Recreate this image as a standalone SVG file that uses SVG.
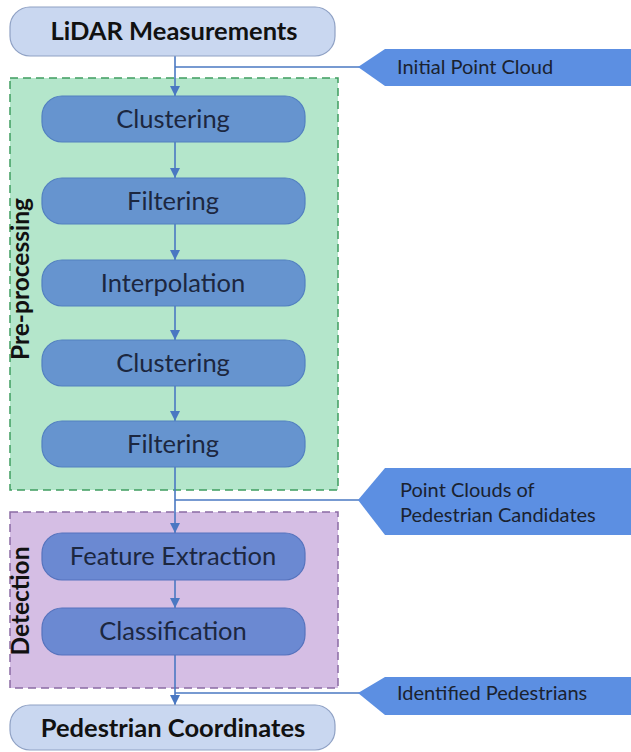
<svg xmlns="http://www.w3.org/2000/svg" width="631" height="752" viewBox="0 0 631 752">
<defs>
<style>
.io{fill:#c9d7f0;stroke:#8fa1c4;stroke-width:1.2}
.iot{font-family:Lato,"Liberation Sans",sans-serif;font-weight:bold;font-size:25.5px;fill:#111;text-anchor:middle}
.pp{fill:#6694cf;stroke:#5280c0;stroke-width:1.2}
.dt{fill:#6b89d2;stroke:#5673bd;stroke-width:1.2}
.bt{font-family:Lato,"Liberation Sans",sans-serif;font-size:25.5px;fill:#1c2740;text-anchor:middle}
.tag{fill:#5c8fe2}
.tt{font-family:Lato,"Liberation Sans",sans-serif;font-size:20px;fill:#1a2230}
.lbl{font-family:Lato,"Liberation Sans",sans-serif;font-weight:bold;font-size:24.5px;fill:#111;text-anchor:middle}
.ln{fill:none;stroke:#4a78c2;stroke-width:1.6}
</style>
<marker id="ah" viewBox="0 0 10 10" refX="10" refY="5" markerWidth="10" markerHeight="10" markerUnits="userSpaceOnUse" orient="auto">
<path d="M0,0 L10,5 L0,10 z" fill="#4a78c2"/>
</marker>
</defs>

<g id="group-preprocessing">
<rect x="10" y="78" width="328" height="412" fill="#b4e6cb" stroke="#3f9d60" stroke-width="1.5" stroke-dasharray="8,5"/>
<text class="lbl" transform="translate(29,279) rotate(-90)">Pre-processing</text>
</g>
<g id="group-detection">
<rect x="10" y="512" width="328" height="176" fill="#d5bee4" stroke="#8b6ba4" stroke-width="1.5" stroke-dasharray="8,5"/>
<text class="lbl" transform="translate(29,601) rotate(-90)">Detection</text>
</g>

<g id="connectors">
<line class="ln" x1="175" y1="56" x2="175" y2="96" marker-end="url(#ah)"/>
<line class="ln" x1="175" y1="67" x2="360" y2="67"/>
<line class="ln" x1="175" y1="142" x2="175" y2="178" marker-end="url(#ah)"/>
<line class="ln" x1="175" y1="224" x2="175" y2="260" marker-end="url(#ah)"/>
<line class="ln" x1="175" y1="306" x2="175" y2="340" marker-end="url(#ah)"/>
<line class="ln" x1="175" y1="386" x2="175" y2="421" marker-end="url(#ah)"/>
<line class="ln" x1="175" y1="467" x2="175" y2="533" marker-end="url(#ah)"/>
<line class="ln" x1="175" y1="500" x2="360" y2="500"/>
<line class="ln" x1="175" y1="580" x2="175" y2="608" marker-end="url(#ah)"/>
<line class="ln" x1="175" y1="655" x2="175" y2="705" marker-end="url(#ah)"/>
<line class="ln" x1="175" y1="693" x2="360" y2="693"/>
</g>

<g id="lidar">
<rect class="io" x="10" y="7" width="325" height="49" rx="20"/>
<text class="iot" x="174" y="40">LiDAR Measurements</text>
</g>
<g id="tag-initial">
<polygon class="tag" points="358,67 385,49 631,49 631,86 385,86"/>
<text class="tt" x="397" y="74">Initial Point Cloud</text>
</g>

<g id="clustering1">
<rect class="pp" x="42" y="96" width="263" height="46" rx="20"/>
<text class="bt" x="173" y="128">Clustering</text>
</g>
<g id="filtering1">
<rect class="pp" x="42" y="178" width="263" height="46" rx="20"/>
<text class="bt" x="173" y="210">Filtering</text>
</g>
<g id="interpolation">
<rect class="pp" x="42" y="260" width="263" height="46" rx="20"/>
<text class="bt" x="173" y="292">Interpolation</text>
</g>
<g id="clustering2">
<rect class="pp" x="42" y="340" width="263" height="46" rx="20"/>
<text class="bt" x="173" y="372">Clustering</text>
</g>
<g id="filtering2">
<rect class="pp" x="42" y="421" width="263" height="46" rx="20"/>
<text class="bt" x="173" y="453">Filtering</text>
</g>

<g id="tag-candidates">
<polygon class="tag" points="358,500 385,468 631,468 631,535 385,535"/>
<text class="tt" x="400" y="497">Point Clouds of</text>
<text class="tt" x="400" y="522">Pedestrian Candidates</text>
</g>

<g id="feature-extraction">
<rect class="dt" x="42" y="533" width="263" height="47" rx="20"/>
<text class="bt" x="173" y="565">Feature Extraction</text>
</g>
<g id="classification">
<rect class="dt" x="42" y="608" width="263" height="47" rx="20"/>
<text class="bt" x="173" y="640">Classification</text>
</g>

<g id="tag-identified">
<polygon class="tag" points="358,693 385,677 631,677 631,715 385,715"/>
<text class="tt" x="397" y="700">Identified Pedestrians</text>
</g>

<g id="pedestrian-coordinates">
<rect class="io" x="10" y="705" width="325" height="45" rx="20"/>
<text class="iot" x="173" y="737">Pedestrian Coordinates</text>
</g>
</svg>
